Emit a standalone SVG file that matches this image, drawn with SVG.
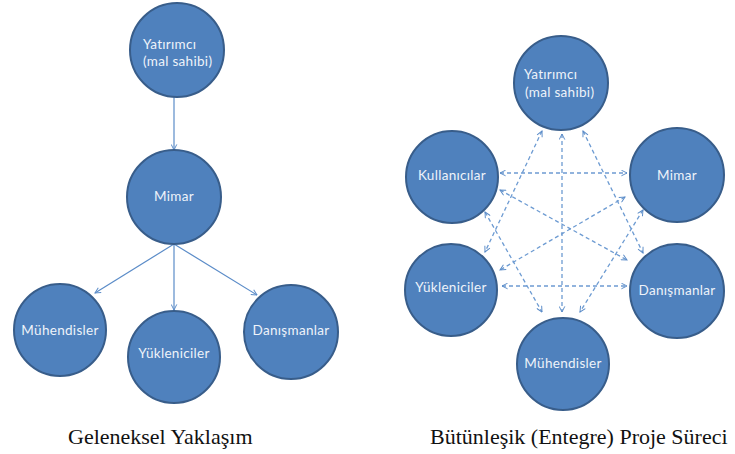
<svg xmlns="http://www.w3.org/2000/svg" width="735" height="454" viewBox="0 0 735 454">
<style>
.node circle{fill:#4f81bd;stroke:#385d8a;stroke-width:2}
.node text{font-family:Lato,"Open Sans",sans-serif;font-size:13.5px;letter-spacing:0.3px;fill:#eef3fa}
.solid{stroke:#5b8cc8;stroke-width:1.2;fill:none;marker-end:url(#ah)}
.dash{stroke:#6d9bd2;stroke-width:1.3;fill:none;stroke-dasharray:4 3;marker-start:url(#ah);marker-end:url(#ah)}
.cap{font-family:"Liberation Serif","Times New Roman",serif;font-size:22px;fill:#111}
</style>
<defs>
<marker id="ah" viewBox="0 0 10 10" refX="9" refY="5" markerWidth="7" markerHeight="7" markerUnits="userSpaceOnUse" orient="auto-start-reverse">
<path d="M1,1 L9,5 L1,9" fill="none" stroke="#5b8cc8" stroke-width="1.4"/>
</marker>
</defs>
<rect width="735" height="454" fill="#fff"/>
<g id="connectors">
<line class="solid" x1="174" y1="97" x2="174" y2="150"/>
<line class="solid" x1="174" y1="244" x2="95" y2="293"/>
<line class="solid" x1="174" y1="244" x2="174" y2="310"/>
<line class="solid" x1="174" y1="244" x2="257" y2="295"/>
<line class="dash" x1="500" y1="173" x2="627" y2="173"/>
<line class="dash" x1="502" y1="286" x2="627" y2="286"/>
<line class="dash" x1="562" y1="134" x2="562" y2="312"/>
<line class="dash" x1="542" y1="131" x2="485" y2="252"/>
<line class="dash" x1="583" y1="131" x2="643" y2="253"/>
<line class="dash" x1="500" y1="190" x2="627" y2="260"/>
<line class="dash" x1="485" y1="212" x2="542" y2="312"/>
<line class="dash" x1="625" y1="197" x2="500" y2="270"/>
<line class="dash" x1="643" y1="210" x2="580" y2="312"/>
</g>
<g id="l-yatirimci" class="node"><circle cx="177" cy="50" r="47"/><text x="143" y="49">Yatırımcı</text><text x="143" y="66">(mal sahibi)</text></g>
<g id="l-mimar" class="node"><circle cx="174" cy="197" r="47"/><text x="174" y="201" text-anchor="middle">Mimar</text></g>
<g id="l-muhendisler" class="node"><circle cx="60" cy="330" r="46"/><text x="60" y="335" text-anchor="middle">Mühendisler</text></g>
<g id="l-yukleniciler" class="node"><circle cx="174" cy="357" r="46"/><text x="174" y="358" text-anchor="middle">Yükleniciler</text></g>
<g id="l-danismanlar" class="node"><circle cx="291" cy="332" r="47"/><text x="291" y="335" text-anchor="middle">Danışmanlar</text></g>
<g id="r-yatirimci" class="node"><circle cx="561" cy="83" r="47"/><text x="524" y="79">Yatırımcı</text><text x="525" y="97">(mal sahibi)</text></g>
<g id="r-kullanicilar" class="node"><circle cx="452" cy="177" r="46"/><text x="452" y="180" text-anchor="middle">Kullanıcılar</text></g>
<g id="r-mimar" class="node"><circle cx="677" cy="175" r="47"/><text x="677" y="180" text-anchor="middle">Mimar</text></g>
<g id="r-yukleniciler" class="node"><circle cx="451" cy="290" r="46"/><text x="451" y="292" text-anchor="middle">Yükleniciler</text></g>
<g id="r-danismanlar" class="node"><circle cx="677" cy="291" r="47"/><text x="677" y="295" text-anchor="middle">Danışmanlar</text></g>
<g id="r-muhendisler" class="node"><circle cx="563" cy="364" r="46"/><text x="563" y="368" text-anchor="middle">Mühendisler</text></g>
<text class="cap" x="68" y="444">Geleneksel Yaklaşım</text>
<text class="cap" x="430" y="444">Bütünleşik (Entegre) Proje Süreci</text>
</svg>
